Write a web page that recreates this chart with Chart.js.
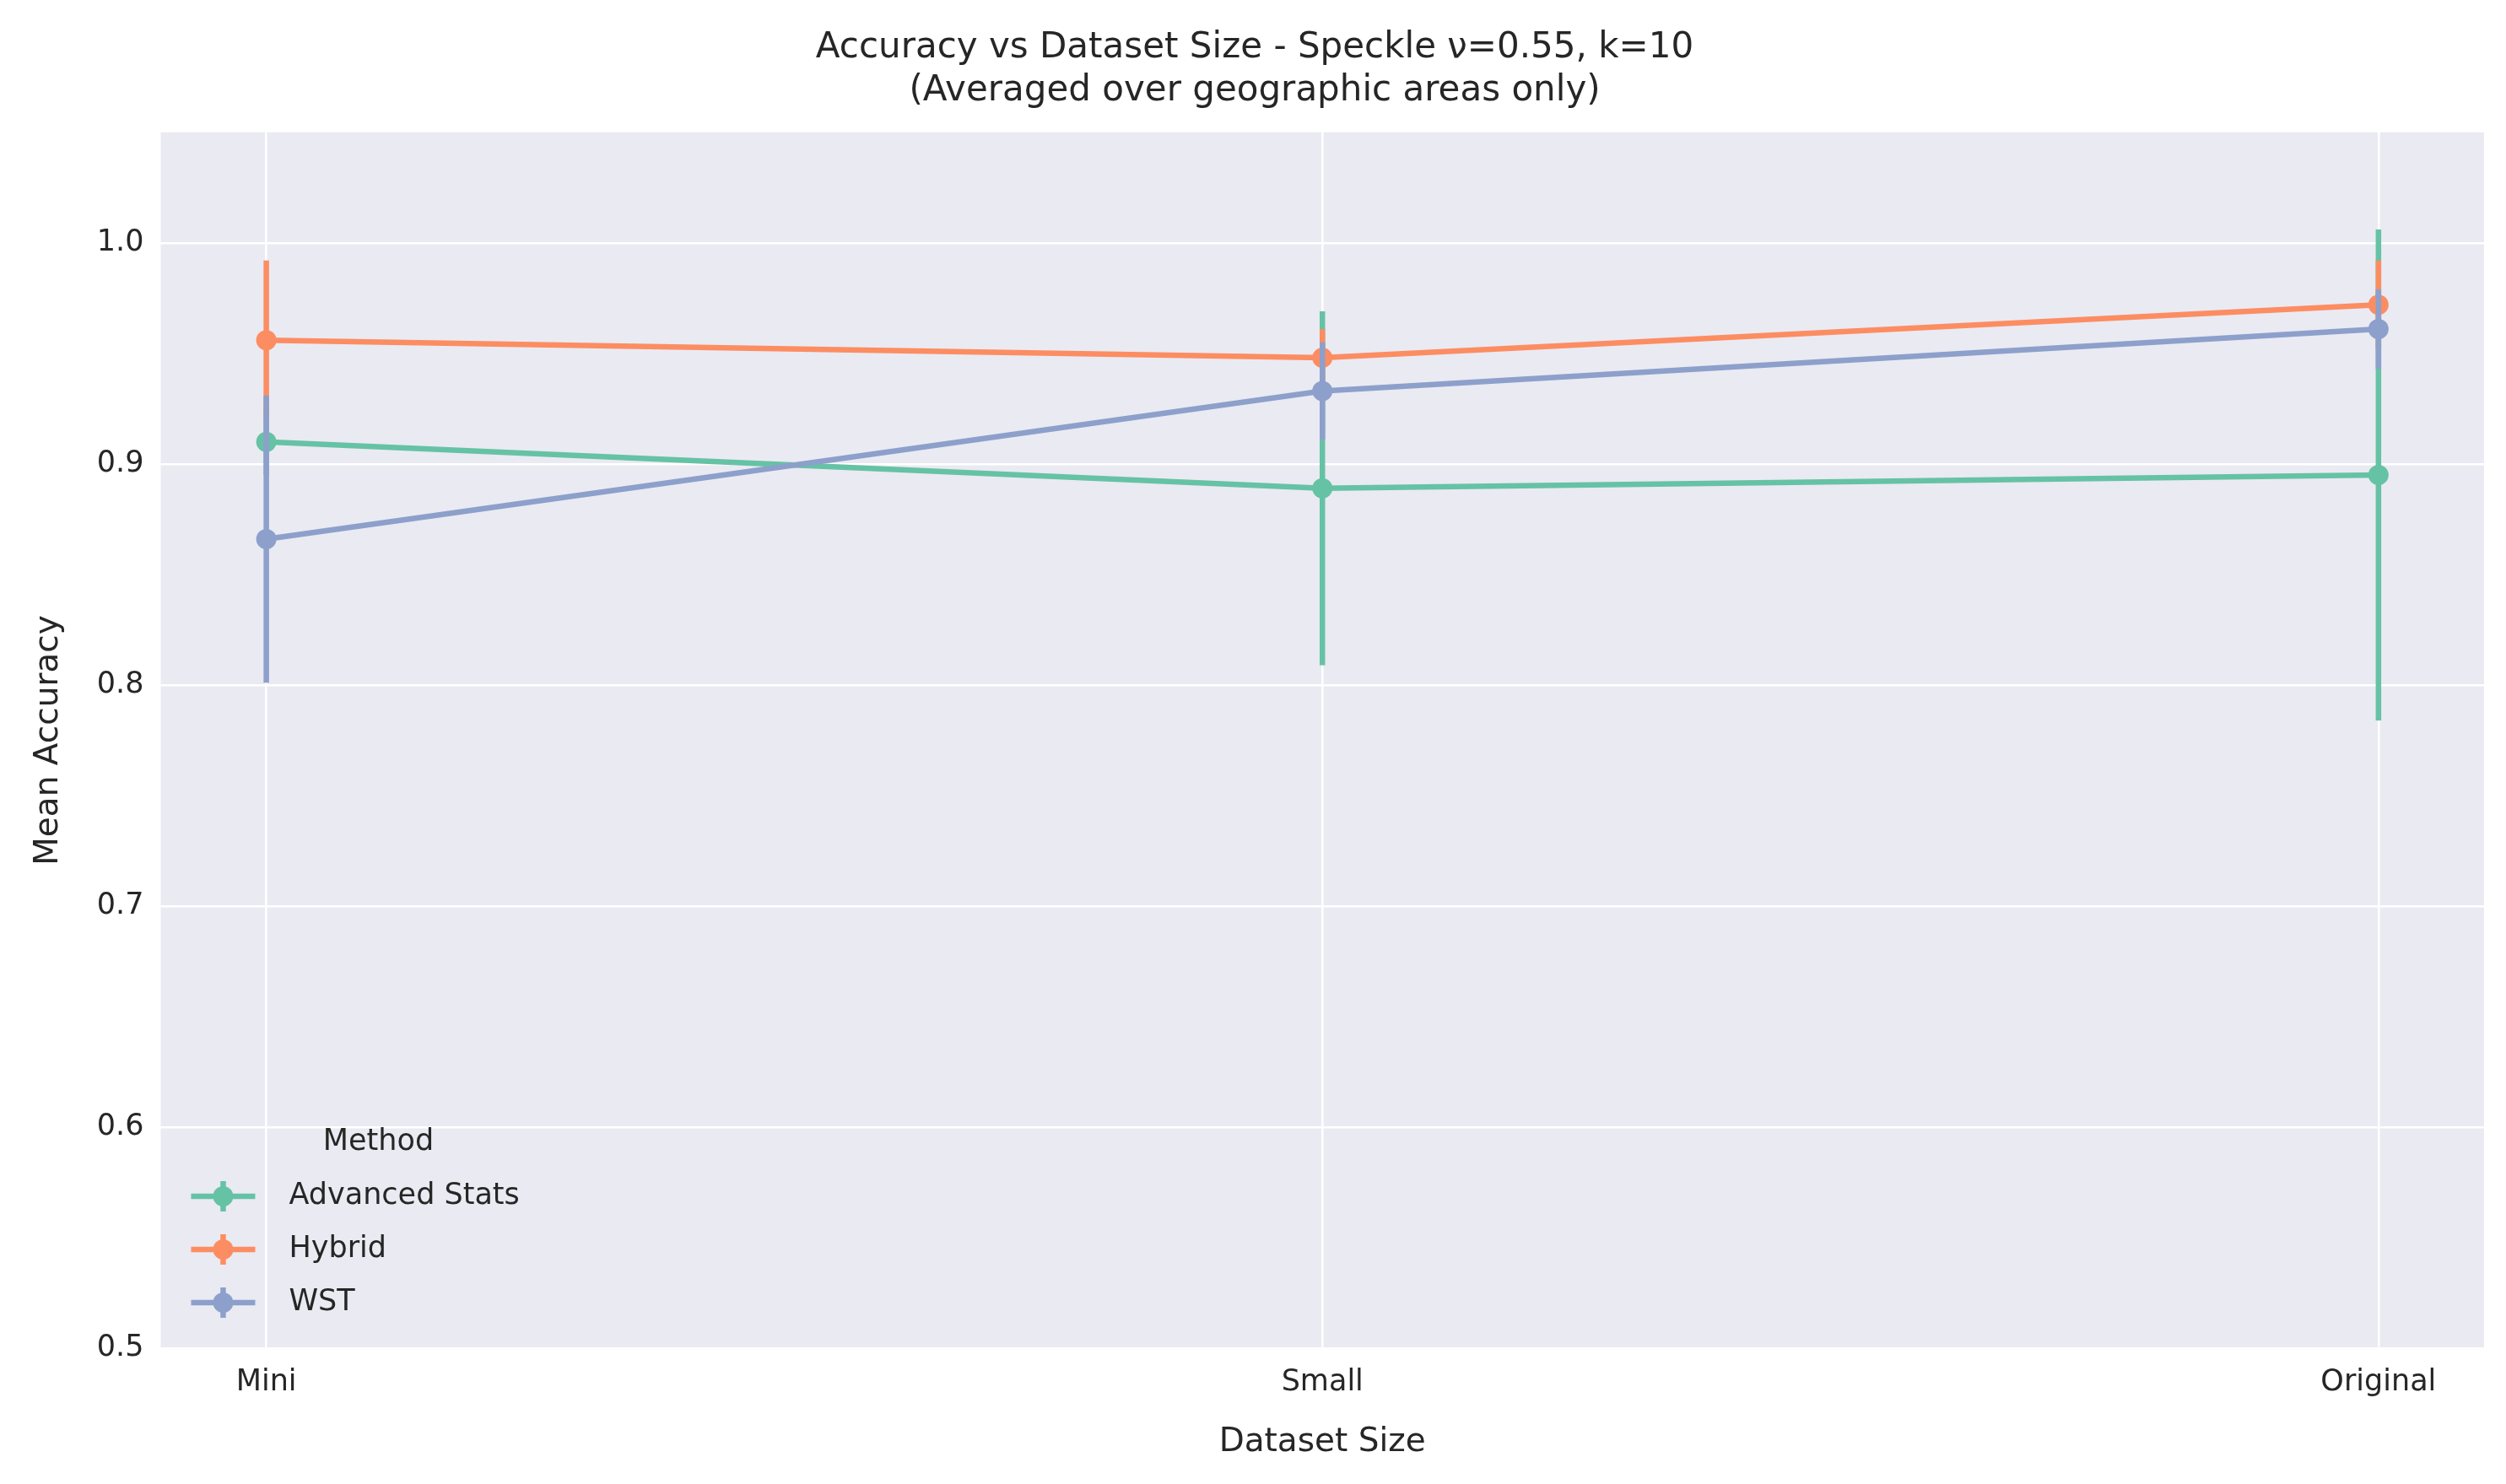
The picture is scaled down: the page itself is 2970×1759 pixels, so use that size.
<!DOCTYPE html>
<html>
<head>
<meta charset="utf-8">
<script src="https://cdn.jsdelivr.net/npm/chart.js@4.4.0/dist/chart.umd.min.js"></script>
<style>
  html, body { margin: 0; padding: 0; background: #ffffff; }
  #wrap { width: 2970px; height: 1759px; }
</style>
</head>
<body>
<div id="wrap"><canvas id="c" width="2970" height="1759"></canvas></div>
<script>
// Data
const sizes = ['Mini', 'Small', 'Original'];
const methods = ['Advanced Stats', 'Hybrid', 'WST'];
const colors = ['#66c2a5', '#fc8d62', '#8da0cb'];
const advMean = [0.910, 0.889, 0.895];
const advErr = [0.015, 0.080, 0.111];
const hybMean = [0.956, 0.948, 0.972];
const hybErr = [0.036, 0.013, 0.020];
const wstMean = [0.866, 0.933, 0.961];
const wstErr = [0.065, 0.022, 0.018];
const yTicks = [0.5, 0.6, 0.7, 0.8, 0.9, 1.0];

const means = [advMean, hybMean, wstMean];
const errs = [advErr, hybErr, wstErr];

const datasets = methods.map((m, i) => ({
  label: m,
  data: means[i].map((v, j) => ({ x: j, y: v })),
  err: errs[i],
  order: methods.length - i,
  borderColor: colors[i],
  backgroundColor: colors[i],
  borderWidth: 6.5,
  pointRadius: 12,
  pointHoverRadius: 12,
  pointBorderWidth: 0,
  tension: 0
}));

// error bars, drawn per dataset so later series sit on top
const errorBars = {
  id: 'errorBars',
  beforeDatasetDraw(chart, args) {
    const ds = chart.data.datasets[args.index];
    const { x, y } = chart.scales;
    const ctx = chart.ctx;
    ctx.save();
    ctx.strokeStyle = ds.borderColor;
    ctx.lineWidth = 6.5;
    ds.data.forEach((p, j) => {
      const px = x.getPixelForValue(p.x);
      ctx.beginPath();
      ctx.moveTo(px, y.getPixelForValue(p.y - ds.err[j]));
      ctx.lineTo(px, y.getPixelForValue(p.y + ds.err[j]));
      ctx.stroke();
    });
    ctx.restore();
  }
};

const bgPlugin = {
  id: 'bg',
  beforeDraw(chart) {
    const a = chart.chartArea, ctx = chart.ctx;
    ctx.save();
    ctx.fillStyle = '#eaeaf2';
    ctx.fillRect(a.left, a.top, a.right - a.left, a.bottom - a.top);
    ctx.restore();
  }
};

// legend inside the plot, lower left
const legendBox = {
  id: 'legendBox',
  afterDraw(chart) {
    const a = chart.chartArea, ctx = chart.ctx;
    ctx.save();
    ctx.font = '35px "DejaVu Sans"';
    ctx.fillStyle = '#262626';
    ctx.textBaseline = 'middle';
    ctx.textAlign = 'center';
    ctx.fillText('Method', a.left + 258, 1354);
    ctx.textAlign = 'left';
    methods.forEach((m, i) => {
      const yy = 1418 + i * 63;
      const x0 = a.left + 36, x1 = a.left + 112, xm = (x0 + x1) / 2;
      ctx.strokeStyle = colors[i];
      ctx.fillStyle = colors[i];
      ctx.lineWidth = 6.5;
      ctx.beginPath(); ctx.moveTo(x0, yy); ctx.lineTo(x1, yy); ctx.stroke();
      ctx.beginPath(); ctx.moveTo(xm, yy - 18); ctx.lineTo(xm, yy + 18); ctx.stroke();
      ctx.beginPath(); ctx.arc(xm, yy, 12, 0, Math.PI * 2); ctx.fill();
      ctx.fillStyle = '#262626';
      ctx.fillText(m, a.left + 152, yy);
    });
    ctx.restore();
  }
};

new Chart(document.getElementById('c'), {
  type: 'line',
  data: { datasets },
  plugins: [bgPlugin, errorBars, legendBox],
  options: {
    responsive: false,
    animation: false,
    layout: { padding: { left: 30, right: 26, top: 10, bottom: 22 } },
    plugins: {
      legend: { display: false },
      tooltip: { enabled: false },
      title: {
        display: true,
        text: ['Accuracy vs Dataset Size - Speckle \u03bd=0.55, k=10', '(Averaged over geographic areas only)'],
        font: { family: 'DejaVu Sans', size: 42, weight: 'normal' },
        color: '#262626',
        padding: { top: 22, bottom: 24 },
        lineHeight: 1.3
      }
    },
    scales: {
      x: {
        type: 'linear',
        min: -0.1, max: 2.1,
        afterBuildTicks(s) { s.ticks = sizes.map((_, j) => ({ value: j })); },
        ticks: {
          callback: v => sizes[v],
          font: { family: 'DejaVu Sans', size: 35 },
          color: '#262626', padding: 20
        },
        grid: { color: '#ffffff', lineWidth: 2.5, drawTicks: false },
        border: { display: false },
        title: { display: true, text: 'Dataset Size', font: { family: 'DejaVu Sans', size: 39 }, color: '#262626', padding: { top: 6 } }
      },
      y: {
        min: 0.5, max: 1.05,
        afterBuildTicks(s) { s.ticks = yTicks.map(v => ({ value: v })); },
        ticks: {
          callback: v => v.toFixed(1),
          font: { family: 'DejaVu Sans', size: 35 },
          color: '#262626', padding: 20
        },
        grid: { color: '#ffffff', lineWidth: 2.5, drawTicks: false },
        border: { display: false },
        title: { display: true, text: 'Mean Accuracy', font: { family: 'DejaVu Sans', size: 39 }, color: '#262626', padding: { bottom: 14 } }
      }
    }
  }
});
</script>
</body>
</html>
